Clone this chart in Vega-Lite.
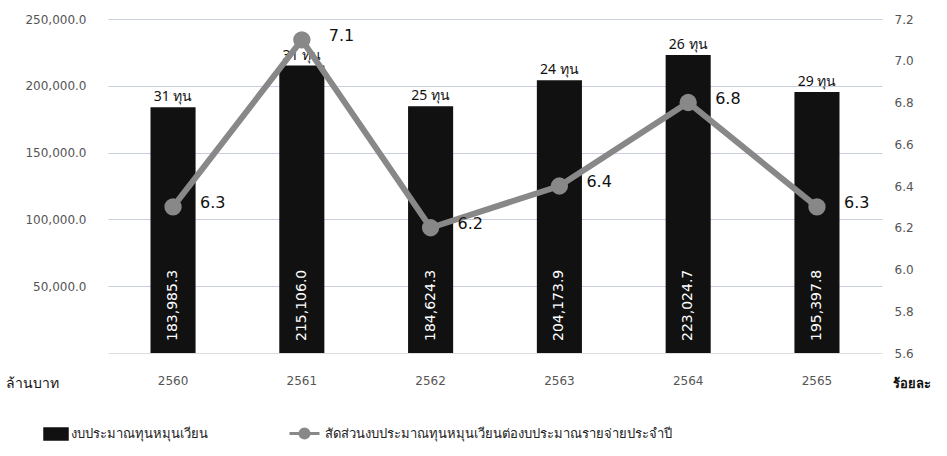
{
  "$schema": "https://vega.github.io/schema/vega-lite/v6.json",
  "width": 774,
  "height": 334,
  "autosize": {"type": "none"},
  "padding": {"left": 108, "top": 19, "right": 65, "bottom": 103},
  "background": "white",
  "config": {
    "view": {"stroke": null},
    "font": "DejaVu Sans",
    "axis": {"labelFont": "DejaVu Sans", "titleFont": "Noto Sans"}
  },
  "data": {
    "values": [
      {"year": "2560", "budget": 183985.3, "funds": "31 ทุน", "ratio": 6.3},
      {"year": "2561", "budget": 215106.0, "funds": "31 ทุน", "ratio": 7.1},
      {"year": "2562", "budget": 184624.3, "funds": "25 ทุน", "ratio": 6.2},
      {"year": "2563", "budget": 204173.9, "funds": "24 ทุน", "ratio": 6.4},
      {"year": "2564", "budget": 223024.7, "funds": "26 ทุน", "ratio": 6.8},
      {"year": "2565", "budget": 195397.8, "funds": "29 ทุน", "ratio": 6.3}
    ]
  },
  "encoding": {
    "x": {
      "field": "year", "type": "ordinal",
      "scale": {"paddingInner": 0.65, "paddingOuter": 0.33},
      "axis": {"title": null, "labelAngle": 0, "labelColor": "#555", "labelFontSize": 12, "ticks": false, "labelPadding": 22, "domainColor": "#ddd"}
    }
  },
  "layer": [
    {
      "layer": [
        {
          "mark": {"type": "bar", "color": "#151515"},
          "encoding": {
            "y": {
              "field": "budget", "type": "quantitative",
              "scale": {"domain": [0, 250000], "nice": false},
              "axis": {
                "values": [50000, 100000, 150000, 200000, 250000],
                "format": ",.1f", "labelColor": "#555", "labelFontSize": 12,
                "labelPadding": 22, "ticks": false, "domain": false,
                "gridColor": "#c9cfe0", "grid": true,
                "title": "ล้านบาท", "titleAngle": 0, "titleAlign": "left", "titleBaseline": "middle",
                "titleX": -103, "titleY": 364, "titleFontWeight": "normal", "titleFontSize": 14, "titleColor": "#111"
              }
            },
            "color": {
              "datum": "งบประมาณทุนหมุนเวียน", "type": "nominal",
              "scale": {"range": ["#111111"]},
              "legend": {
                "title": null, "orient": "none", "legendX": -65, "legendY": 402,
                "symbolType": "M-1,-0.5H1V0.5H-1Z", "symbolSize": 576, "symbolFillColor": "#111111", "symbolStrokeColor": "#111111",
                "labelFontSize": 13, "labelColor": "#222", "labelFont": "Noto Sans", "labelOffset": 2
              }
            }
          }
        },
        {
          "mark": {"type": "text", "baseline": "bottom", "dy": -3, "fontSize": 14, "color": "#111", "font": "Noto Sans"},
          "encoding": {
            "y": {"field": "budget", "type": "quantitative"},
            "text": {"field": "funds"}
          }
        },
        {
          "mark": {"type": "text", "angle": 270, "align": "left", "baseline": "middle", "dx": 12, "fontSize": 14, "color": "white"},
          "encoding": {
            "y": {"datum": 0, "type": "quantitative"},
            "text": {"field": "budget", "type": "quantitative", "format": ",.1f"}
          }
        }
      ]
    },
    {
      "layer": [
        {
          "mark": {"type": "line", "strokeWidth": 6, "point": {"filled": true, "size": 300, "color": "#888888"}},
          "encoding": {
            "y": {
              "field": "ratio", "type": "quantitative",
              "scale": {"domain": [5.6, 7.2], "nice": false, "zero": false},
              "axis": {
                "orient": "right", "values": [5.6, 5.8, 6.0, 6.2, 6.4, 6.6, 6.8, 7.0, 7.2],
                "format": ".1f", "labelColor": "#555", "labelFontSize": 12, "labelPadding": 12,
                "ticks": false, "domain": false, "grid": false,
                "title": "ร้อยละ", "titleAngle": 0, "titleAlign": "left", "titleBaseline": "middle",
                "titleX": 10, "titleY": 364, "titleFontWeight": "bold", "titleFontSize": 13, "titleColor": "#111"
              }
            },
            "color": {
              "datum": "สัดส่วนงบประมาณทุนหมุนเวียนต่องบประมาณรายจ่ายประจำปี", "type": "nominal",
              "scale": {"range": ["#888888"]},
              "legend": {
                "title": null, "orient": "none", "legendX": 180, "legendY": 398,
                "symbolType": "M-1,0L-0.3,0M0.3,0L1,0M-0.3,0A0.3,0.3 0 1,0 0.3,0A0.3,0.3 0 1,0 -0.3,0Z",
                "symbolSize": 900, "symbolStrokeWidth": 3, "symbolFillColor": "#888888", "symbolStrokeColor": "#888888",
                "labelFontSize": 13, "labelColor": "#222", "labelFont": "Noto Sans", "labelLimit": 600, "labelOffset": 4
              }
            }
          }
        },
        {
          "mark": {"type": "text", "align": "left", "baseline": "middle", "dx": 27, "dy": -4, "fontSize": 16, "color": "#111"},
          "encoding": {
            "y": {"field": "ratio", "type": "quantitative"},
            "text": {"field": "ratio", "type": "quantitative", "format": ".1f"}
          }
        }
      ]
    }
  ],
  "resolve": {"scale": {"y": "independent", "color": "independent"}}
}
